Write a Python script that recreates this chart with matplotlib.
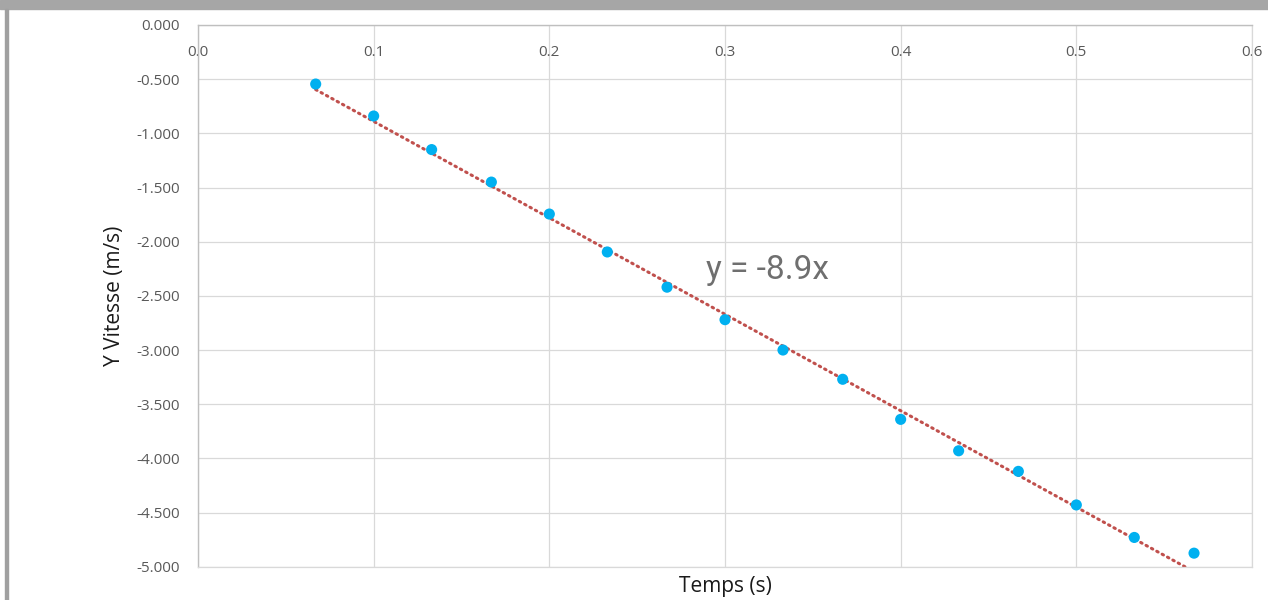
import matplotlib
matplotlib.use("Agg")
import matplotlib.pyplot as plt
from matplotlib.patches import Rectangle

# measured points: time (s) and vertical velocity (m/s)
temps = [0.067, 0.100, 0.133, 0.167, 0.200, 0.233, 0.267, 0.300,
         0.333, 0.367, 0.400, 0.433, 0.467, 0.500, 0.533, 0.567]
vitesse = [-0.545, -0.840, -1.150, -1.450, -1.745, -2.095, -2.420, -2.720,
           -3.000, -3.270, -3.640, -3.930, -4.120, -4.430, -4.730, -4.875]

# trendline through origin shown on the chart
pente = -8.9
equation = "y = -8.9x"

x_ticks = [0.0, 0.1, 0.2, 0.3, 0.4, 0.5, 0.6]
y_ticks = [0.0, -0.5, -1.0, -1.5, -2.0, -2.5, -3.0, -3.5, -4.0, -4.5, -5.0]

GRID = "#d9d9d9"
TICK = "#595959"

plt.rcParams['font.family'] = ['Open Sans', 'DejaVu Sans']

fig = plt.figure(figsize=(12.68, 6.0), dpi=100)
ax = fig.add_axes([198 / 1268, 1 - 566.7 / 600, (1252 - 198) / 1268, (566.7 - 25) / 600])

# frame around the picture
fig.patches.append(Rectangle((0, 1 - 9 / 600), 1, 9 / 600, transform=fig.transFigure,
                             color="#a6a6a6", zorder=0))
fig.patches.append(Rectangle((5 / 1268, 0), 2.5 / 1268, 1 - 9 / 600, transform=fig.transFigure,
                             color="#a0a0a0", zorder=0))

ax.set_xlim(0, 0.6)
ax.set_ylim(-5, 0)
ax.set_xticks(x_ticks)
ax.set_yticks(y_ticks)
ax.set_xticklabels(["%.1f" % v for v in x_ticks])
ax.set_yticklabels(["%.3f" % v for v in y_ticks])

ax.grid(True, color=GRID, linewidth=0.9, zorder=0)
ax.set_axisbelow(True)
for side in ["right", "bottom"]:
    ax.spines[side].set_color(GRID)
    ax.spines[side].set_linewidth(0.9)
for side in ["left", "top"]:
    ax.spines[side].set_color("#bfbfbf")
    ax.spines[side].set_linewidth(1.0)

ax.tick_params(axis='x', top=True, labeltop=True, bottom=False, labelbottom=False,
               length=0, pad=-25, labelsize=11, labelcolor=TICK)
ax.tick_params(axis='y', length=0, pad=13, labelsize=11, labelcolor=TICK)

# trendline
tx = [temps[0], temps[-1]]
ty = [pente * t for t in tx]
ax.plot(tx, ty, color="#c0504d", linewidth=2.2, linestyle=(0, (0.5, 1.5)),
        dash_capstyle="round", zorder=2)

ax.scatter(temps, vitesse, s=64, color="#00b0f0", edgecolors="none", zorder=3)

ax.text(0.289, -2.26, equation, fontsize=24, color="#6f6f6f", family=['Roboto', 'DejaVu Sans'],
        ha="left", va="center")

ax.set_xlabel("Temps (s)", fontsize=15, color="#1a1a1a", labelpad=7)
ax.set_ylabel("Y Vitesse (m/s)", fontsize=15, color="#1a1a1a", labelpad=8)

fig.savefig("out.png", dpi=100, facecolor="white")
